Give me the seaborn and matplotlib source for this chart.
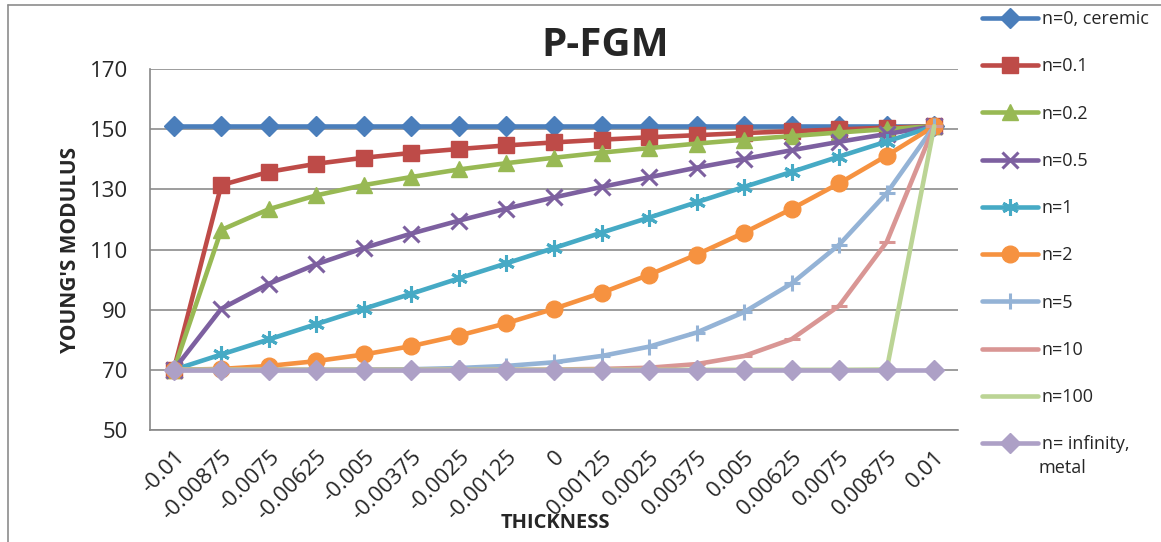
import numpy as np
import pandas as pd
import seaborn as sns
import matplotlib.pyplot as plt
from matplotlib.lines import Line2D

thickness = ['-0.01', '-0.00875', '-0.0075', '-0.00625', '-0.005', '-0.00375', '-0.0025', '-0.00125',
             '0', '0.00125', '0.0025', '0.00375', '0.005', '0.00625', '0.0075', '0.00875', '0.01']

n_0 = [151, 151, 151, 151, 151, 151, 151, 151, 151, 151, 151, 151, 151, 151, 151, 151, 151]
n_01 = [70, 131.4, 135.8, 138.5, 140.5, 142.1, 143.4, 144.6, 145.6, 146.5, 147.3, 148.0, 148.7, 149.3, 149.9, 150.5, 151]
n_02 = [70, 116.5, 123.4, 128.0, 131.4, 134.1, 136.6, 138.7, 140.5, 142.2, 143.7, 145.2, 146.5, 147.7, 148.9, 150.0, 151]
n_05 = [70, 90.3, 98.6, 105.1, 110.5, 115.3, 119.6, 123.6, 127.3, 130.8, 134.0, 137.2, 140.1, 143.0, 145.8, 148.4, 151]
n_1 = [70, 75.1, 80.1, 85.2, 90.3, 95.3, 100.4, 105.4, 110.5, 115.6, 120.6, 125.7, 130.8, 135.8, 140.9, 145.9, 151]
n_2 = [70, 70.3, 71.3, 72.9, 75.1, 77.9, 81.4, 85.5, 90.3, 95.6, 101.6, 108.3, 115.6, 123.5, 132.0, 141.2, 151]
n_5 = [70, 70.0, 70.0, 70.0, 70.1, 70.2, 70.6, 71.3, 72.5, 74.6, 77.7, 82.4, 89.2, 98.7, 111.6, 128.7, 151]
n_10 = [70, 70, 70, 70, 70, 70, 70, 70.0, 70.1, 70.3, 70.7, 71.9, 74.6, 80.2, 91.3, 112.5, 151]
n_100 = [70, 70, 70, 70, 70, 70, 70, 70, 70, 70, 70, 70, 70, 70, 70, 70.1, 151]
n_inf = [70, 70, 70, 70, 70, 70, 70, 70, 70, 70, 70, 70, 70, 70, 70, 70, 70]

labels = ['n=0, ceremic', 'n=0.1', 'n=0.2', 'n=0.5', 'n=1', 'n=2', 'n=5', 'n=10', 'n=100',
          'n= infinity,']
colors = ['#4A7EBB', '#BE4B48', '#98B954', '#7D60A0', '#46AAC5', '#F69240',
          '#94B3D6', '#D99694', '#BBD495', '#ADA0C6']
markers = ['D', 's', '^', 'x', (6, 2, 0), 'o', '+', '_', None, 'D']
sizes = [10, 11, 12, 11, 12, 12, 12, 11, 0, 10]

df = pd.DataFrame({'pos': range(len(thickness)), 'n0': n_0, 'n01': n_01, 'n02': n_02, 'n05': n_05,
                   'n1': n_1, 'n2': n_2, 'n5': n_5, 'n10': n_10, 'n100': n_100, 'ninf': n_inf})
cols = ['n0', 'n01', 'n02', 'n05', 'n1', 'n2', 'n5', 'n10', 'n100', 'ninf']

sns.set_style('white')
plt.rcParams['font.family'] = ['Open Sans', 'DejaVu Sans']

fig = plt.figure(figsize=(11.61, 5.42), dpi=100)
ax = fig.add_axes([150 / 1161, 1 - 430 / 542, (958 - 150) / 1161, (430 - 69) / 542])

handles = []
for col, lab, c, m, s in zip(cols, labels, colors, markers, sizes):
    sns.lineplot(data=df, x='pos', y=col, ax=ax, color=c, lw=3.3, marker=m, ms=s,
                 mfc=c, mec=c, mew=2.2 if m in ('x', '+', '_', (6, 2, 0)) else 1,
                 legend=False)
    handles.append(ax.lines[-1])

ax.set_ylim(50, 170)
ax.set_yticks([50, 70, 90, 110, 130, 150, 170])
ax.set_xlim(-0.5, 16.5)
ax.set_xticks(range(len(thickness)))
ax.set_xticklabels(thickness, rotation=45, ha='right', rotation_mode='anchor')
ax.set_xticks(np.arange(-0.5, 17, 1), minor=True)
ax.tick_params(axis='x', which='major', length=0, pad=12, labelsize=16)
ax.tick_params(axis='x', which='minor', length=6, width=1, color='#888888', direction='out')
ax.tick_params(axis='y', length=6, width=1, color='#888888', direction='out', labelsize=16, pad=10)
ax.grid(axis='y', color='#8c8c8c', lw=1.2)
ax.set_axisbelow(True)
for side in ['top', 'right']:
    ax.spines[side].set_visible(False)
for side in ['left', 'bottom']:
    ax.spines[side].set_color('#888888')
    ax.spines[side].set_linewidth(1.2)

ax.set_xlabel('')
ax.set_ylabel("YOUNG'S MODULUS", fontsize=15, fontweight='bold', labelpad=6)
fig.text(555 / 1161, 1 - 523 / 542, 'THICKNESS', fontsize=14.5, fontweight='bold', ha='center', va='center')
fig.text(605 / 1161, 1 - 45 / 542, 'P-FGM', fontsize=29, fontweight='bold', ha='center', va='center')

fig.legend(handles, labels, loc='upper left', bbox_to_anchor=(975 / 1161, 1 - 3 / 542), frameon=False,
           fontsize=13, handlelength=3.1, handletextpad=0.2, labelspacing=1.62, borderaxespad=0)
fig.text(1039 / 1161, 1 - 468 / 542, 'metal', fontsize=13, ha='left', va='center')

# chart border
fig.add_artist(Line2D([8 / 1161, 8 / 1161], [0, 1 - 5 / 542], color='#8c8c8c', lw=1.2))
fig.add_artist(Line2D([8 / 1161, 1], [1 - 5 / 542, 1 - 5 / 542], color='#8c8c8c', lw=1.2))

fig.savefig('out.png', dpi=100)
